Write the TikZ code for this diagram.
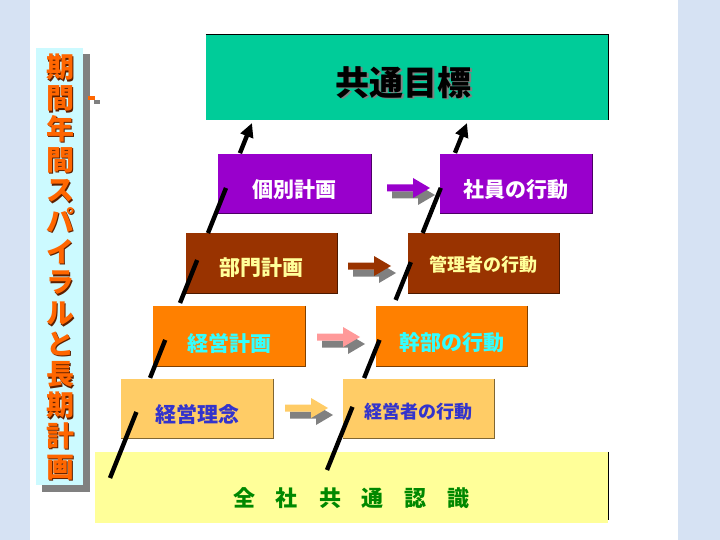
\documentclass[tikz,border=0pt]{standalone}
\usepackage{fontspec}
\newfontfamily\jp{Noto Sans CJK JP}
\usetikzlibrary{calc,arrows.meta}
\definecolor{strip}{HTML}{D6E2F3}
\definecolor{titlebg}{HTML}{CCFAFF}
\definecolor{titlefg}{HTML}{FF6600}
\definecolor{goalc}{HTML}{00CC99}
\definecolor{purp}{HTML}{9900CC}
\definecolor{brwn}{HTML}{993300}
\definecolor{orng}{HTML}{FF8000}
\definecolor{lorng}{HTML}{FFCC66}
\definecolor{ylw}{HTML}{FFFF99}
\definecolor{cyantext}{HTML}{33FFFF}
\definecolor{bluetext}{HTML}{3333CC}
\definecolor{greentext}{HTML}{008800}
\definecolor{pinkc}{HTML}{FF9999}
\definecolor{shadowgray}{HTML}{808080}
\newcommand{\dn}[2]{\raisebox{-#1pt}[\height][\depth]{#2}}
\tikzset{
  box/.style={rectangle, inner sep=0pt, font=\jp\bfseries},
  edgeline/.style={line width=0.8pt},
  spiral/.style={line width=4.4pt, line cap=butt},
  barrow/.pic={
    \fill[shadowgray] (5,3.5) -- (31,3.5) -- (31,-3) -- (48,7) -- (31,17) -- (31,10.5) -- (5,10.5) -- cycle;
    \fill[#1] (0,-3.5) -- (26,-3.5) -- (26,-10) -- (43,0) -- (26,10) -- (26,3.5) -- (0,3.5) -- cycle;
  }
}
\begin{document}
\begin{tikzpicture}[x=1pt,y=-1pt]
\useasboundingbox (0,0) rectangle (720,540);
\fill[white] (0,0) rectangle (720,540);
% side strips
\fill[strip] (0,0) rectangle (30,540);
\fill[strip] (678,0) rectangle (720,540);

% vertical title
\fill[shadowgray] (42,54) rectangle (90,492);
\fill[titlebg] (36,48) rectangle (83,485);
\node[font=\jp\bfseries\fontsize{28}{30.7}\selectfont, text=titlefg, align=center, inner sep=0pt] (title) at (60,267)
  {\rlap{\kern1.5pt\color{brwn!60!black}\dn{1.5}{期}}期\\\rlap{\kern1.5pt\color{brwn!60!black}\dn{1.5}{間}}間\\\rlap{\kern1.5pt\color{brwn!60!black}\dn{1.5}{年}}年\\\rlap{\kern1.5pt\color{brwn!60!black}\dn{1.5}{間}}間\\\rlap{\kern1.5pt\color{brwn!60!black}\dn{1.5}{ス}}ス\\\rlap{\kern1.5pt\color{brwn!60!black}\dn{1.5}{パ}}パ\\\rlap{\kern1.5pt\color{brwn!60!black}\dn{1.5}{イ}}イ\\\rlap{\kern1.5pt\color{brwn!60!black}\dn{1.5}{ラ}}ラ\\\rlap{\kern1.5pt\color{brwn!60!black}\dn{1.5}{ル}}ル\\\rlap{\kern1.5pt\color{brwn!60!black}\dn{1.5}{と}}と\\\rlap{\kern1.5pt\color{brwn!60!black}\dn{1.5}{長}}長\\\rlap{\kern1.5pt\color{brwn!60!black}\dn{1.5}{期}}期\\\rlap{\kern1.5pt\color{brwn!60!black}\dn{1.5}{計}}計\\\rlap{\kern1.5pt\color{brwn!60!black}\dn{1.5}{画}}画};
\fill[shadowgray] (94,100) rectangle (100,104);
\fill[titlefg] (88,96) rectangle (95,100);

% goal box
\node[box, fill=goalc, minimum width=402pt, minimum height=85pt, font=\jp\bfseries\fontsize{34}{36}\selectfont, text=black] (goal) at (407,77.5)
  {\dn{5}{\rlap{\kern1.5pt\color{gray}\dn{1.5}{共通目標}}共通目標}\kern7pt};
\draw[edgeline] (goal.north west) -- (goal.north east) -- (goal.south east);

% level boxes
\node[box, fill=purp, minimum width=153pt, minimum height=59pt, text=white, font=\jp\bfseries\fontsize{21}{24}\selectfont] (p1) at (294.5,183.5) {\dn{6.5}{個別計画}};
\node[box, fill=purp, minimum width=152pt, minimum height=59pt, text=white, font=\jp\bfseries\fontsize{21}{24}\selectfont] (p2) at (516,183.5) {\dn{6.5}{社員の行動}};
\node[box, fill=brwn, minimum width=151pt, minimum height=60pt, text=ylw, font=\jp\bfseries\fontsize{21}{24}\selectfont] (b1) at (261.5,263) {\dn{5}{部門計画}};
\node[box, fill=brwn, minimum width=151pt, minimum height=60pt, text=ylw, font=\jp\bfseries\fontsize{18}{22}\selectfont] (b2) at (483.5,263) {\dn{2}{管理者の行動}};
\node[box, fill=orng, minimum width=152pt, minimum height=60pt, text=cyantext, font=\jp\bfseries\fontsize{21}{24}\selectfont] (o1) at (229,336) {\dn{7}{経営計画}};
\node[box, fill=orng, minimum width=151pt, minimum height=60pt, text=cyantext, font=\jp\bfseries\fontsize{21}{24}\selectfont] (o2) at (451.5,336) {\dn{7}{幹部の行動}};
\node[box, fill=lorng, minimum width=152pt, minimum height=59pt, text=bluetext, font=\jp\bfseries\fontsize{21}{24}\selectfont] (l1) at (197,408.5) {\dn{5.5}{経営理念}};
\node[box, fill=lorng, minimum width=151pt, minimum height=59pt, text=bluetext, font=\jp\bfseries\fontsize{18}{22}\selectfont] (l2) at (418.5,408.5) {\dn{3.5}{経営者の行動}};
\foreach \n/\c in {p1/purp,p2/purp,b1/brwn,b2/brwn,o1/orng,o2/orng,l1/lorng,l2/lorng}{
  \draw[edgeline, draw=\c!50!black] (\n.north east) -- (\n.south east) -- (\n.south west);
}

% base box
\node[box, fill=ylw, minimum width=513pt, minimum height=71pt, text=greentext, font=\jp\bfseries\fontsize{22}{24}\selectfont] (base) at (351.5,487.5)
  {\dn{10.5}{全\hspace{21pt}社\hspace{21pt}共\hspace{21pt}通\hspace{21pt}認\hspace{21pt}識}};
\draw[edgeline] (base.north east) -- ([yshift=3pt]base.south east);

% horizontal block arrows
\pic at (387,188) {barrow=purp};
\pic at (348,266) {barrow=brwn};
\pic at (317,337) {barrow=pinkc};
\pic at (285,408) {barrow=lorng};

% spiral lines
\coordinate (ls) at (110,478);
\coordinate (le) at (252,123);
\coordinate (rs) at (327,470);
\coordinate (re) at (467,123);
\foreach \a/\b in {0/0.186, 0.282/0.389, 0.493/0.614, 0.690/0.817}{
  \draw[spiral] ($(ls)!\a!(le)$) -- ($(ls)!\b!(le)$);
}
\draw[spiral, -{Triangle[length=14pt,width=13pt]}] ($(ls)!0.915!(le)$) -- (le);
\foreach \a/\b in {0/0.182, 0.265/0.375, 0.490/0.599, 0.683/0.813}{
  \draw[spiral] ($(rs)!\a!(re)$) -- ($(rs)!\b!(re)$);
}
\draw[spiral, -{Triangle[length=14pt,width=13pt]}] ($(rs)!0.914!(re)$) -- (re);
\end{tikzpicture}
\end{document}
